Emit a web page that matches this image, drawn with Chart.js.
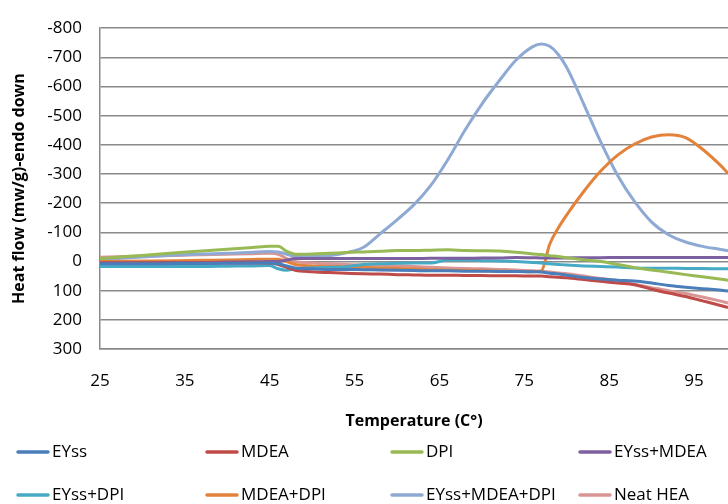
<!DOCTYPE html>
<html>
<head>
<meta charset="utf-8">
<title>DSC heat flow</title>
<script src="https://cdn.jsdelivr.net/npm/chart.js@4"></script>
<style>
  html, body { margin: 0; padding: 0; background: #fff; }
  #wrap { position: relative; width: 728px; height: 504px; }
</style>
</head>
<body>
<div id="wrap"><canvas id="dscChart"></canvas></div>
<script>
// temperature (C) and heat flow (mW/g) for each sample
const temps = [25, 28, 31, 34, 37, 40, 43, 45, 46, 47, 48, 50, 52, 54, 56, 58, 60, 62, 64, 66,
  68, 70, 72, 74, 76, 77, 78, 79, 80, 82, 84, 86, 88, 90, 92, 94, 96, 98, 99];

const eyss = [8, 8, 8, 7, 7, 6, 6, 5, 8, 15, 22, 25, 27, 27, 28, 29, 30, 31, 32, 32,
  33, 33, 34, 34, 35, 36, 40, 43, 47, 55, 60, 64, 67, 74, 82, 88, 93, 98, 101];
const mdea = [5, 5, 5, 5, 5, 5, 5, 5, 10, 20, 30, 35, 38, 40, 42, 43, 45, 46, 47, 47,
  48, 48, 49, 49, 50, 50, 52, 54, 56, 62, 68, 74, 80, 95, 108, 120, 135, 150, 158];
const dpi = [-10, -17, -23, -30, -36, -42, -48, -52, -52, -35, -25, -26, -28, -31, -33, -35, -38, -38, -39, -40,
  -38, -37, -36, -32, -26, -24, -20, -17, -13, -6, 0, 10, 21, 29, 37, 45, 52, 60, 64];
const eyssMdea = [5, 4, 4, 3, 3, 2, 1, 0, 0, -5, -10, -10, -10, -10, -10, -10, -10, -10, -11, -11,
  -11, -12, -12, -14, -13, -12, -12, -12, -12, -13, -13, -14, -14, -14, -14, -14, -14, -14, -14];
const eyssDpi = [17, 17, 17, 17, 17, 16, 15, 14, 25, 30, 25, 22, 20, 18, 10, 8, 6, 5, 5, -5,
  -5, -3, -2, 0, 3, 5, 8, 10, 12, 15, 17, 19, 22, 23, 23, 24, 24, 25, 25];
const mdeaDpi = [0, -1, -2, -3, -4, -5, -7, -8, -8, 0, 10, 15, 17, 18, 20, 22, 24, 26, 28, 30,
  31, 32, 33, 34, 35, 32, -60, -115, -160, -240, -310, -365, -403, -427, -435, -425, -385, -333, -303];
const eyssMdeaDpi = [-7, -12, -17, -22, -26, -28, -32, -34, -33, -25, -18, -18, -20, -30, -48, -95, -143, -195, -262, -350,
  -450, -540, -618, -690, -737, -746, -738, -710, -665, -540, -410, -295, -205, -135, -92, -67, -52, -42, -37];
const neatHea = [-15, -17, -19, -21, -23, -25, -27, -28, -25, -10, 0, 5, 8, 10, 12, 13, 15, 17, 20, 22,
  24, 25, 27, 29, 32, 33, 36, 39, 42, 50, 58, 65, 78, 90, 100, 110, 122, 135, 142];

const seriesNames = ["EYss", "MDEA", "DPI", "EYss+MDEA", "EYss+DPI", "MDEA+DPI", "EYss+MDEA+DPI", "Neat HEA"];
const seriesValues = [eyss, mdea, dpi, eyssMdea, eyssDpi, mdeaDpi, eyssMdeaDpi, neatHea];
const seriesColors = ["#4a7ebb", "#be4b48", "#98b954", "#7d60a0", "#46aac5", "#e3833b", "#8eaad4", "#d99593"];
const xTicks = [25, 35, 45, 55, 65, 75, 85, 95];

const FONT = "'Open Sans', sans-serif";

// legend in four fixed columns, two rows, under the x axis title
const legendGrid = {
  id: "legendGrid",
  afterDraw(chart) {
    const ctx = chart.ctx;
    const cols = [18, 207, 392, 580];
    const rows = [452, 495];
    ctx.save();
    ctx.font = "17px " + FONT;
    ctx.textBaseline = "middle";
    ctx.fillStyle = "#000";
    chart.data.datasets.forEach((ds, i) => {
      const x = cols[i % 4];
      const y = rows[Math.floor(i / 4)];
      ctx.strokeStyle = ds.borderColor;
      ctx.lineWidth = 3.5;
      ctx.lineCap = "round";
      ctx.beginPath();
      ctx.moveTo(x, y);
      ctx.lineTo(x + 30, y);
      ctx.stroke();
      ctx.fillText(ds.label, x + 34, y);
    });
    ctx.restore();
  },
};

new Chart(document.getElementById("dscChart"), {
  type: "line",
  data: {
    labels: temps,
    datasets: seriesNames.map((name, i) => ({
      label: name,
      data: seriesValues[i],
      borderColor: seriesColors[i],
      backgroundColor: seriesColors[i],
      borderWidth: 3,
      pointRadius: 0,
      cubicInterpolationMode: "monotone",
      fill: false,
    })),
  },
  options: {
    responsive: true,
    maintainAspectRatio: false,
    animation: false,
    layout: { padding: { top: 23, right: 0, bottom: 0, left: 0 } },
    plugins: {
      legend: { display: false },
      tooltip: { enabled: false },
    },
    scales: {
      x: {
        type: "linear",
        min: 25,
        max: 99,
        afterBuildTicks: (scale) => {
          scale.ticks = xTicks.map((v) => ({ value: v }));
        },
        afterFit: (scale) => {
          scale.height = 155;
        },
        grid: { display: false, drawTicks: false },
        border: { color: "#8a8a8a", width: 1.5 },
        ticks: {
          color: "#000",
          font: { family: FONT, size: 17 },
          padding: 22,
          maxRotation: 0,
          autoSkip: false,
        },
        title: {
          display: true,
          text: "Temperature (C°)",
          color: "#000",
          font: { family: FONT, size: 16, weight: "bold" },
          padding: { top: 0, bottom: 73 },
        },
      },
      y: {
        reverse: true,
        min: -800,
        max: 300,
        afterFit: (scale) => {
          scale.width = 100;
        },
        grid: { color: "#8a8a8a", lineWidth: 1.5, drawTicks: false },
        border: { color: "#8a8a8a", width: 1.5 },
        ticks: {
          stepSize: 100,
          color: "#000",
          font: { family: FONT, size: 17 },
          padding: 18,
        },
        title: {
          display: true,
          text: "Heat flow (mw/g)-endo down",
          color: "#000",
          font: { family: FONT, size: 16, weight: "bold" },
          padding: { top: 10, bottom: 0 },
        },
      },
    },
  },
  plugins: [legendGrid],
});
</script>
</body>
</html>
